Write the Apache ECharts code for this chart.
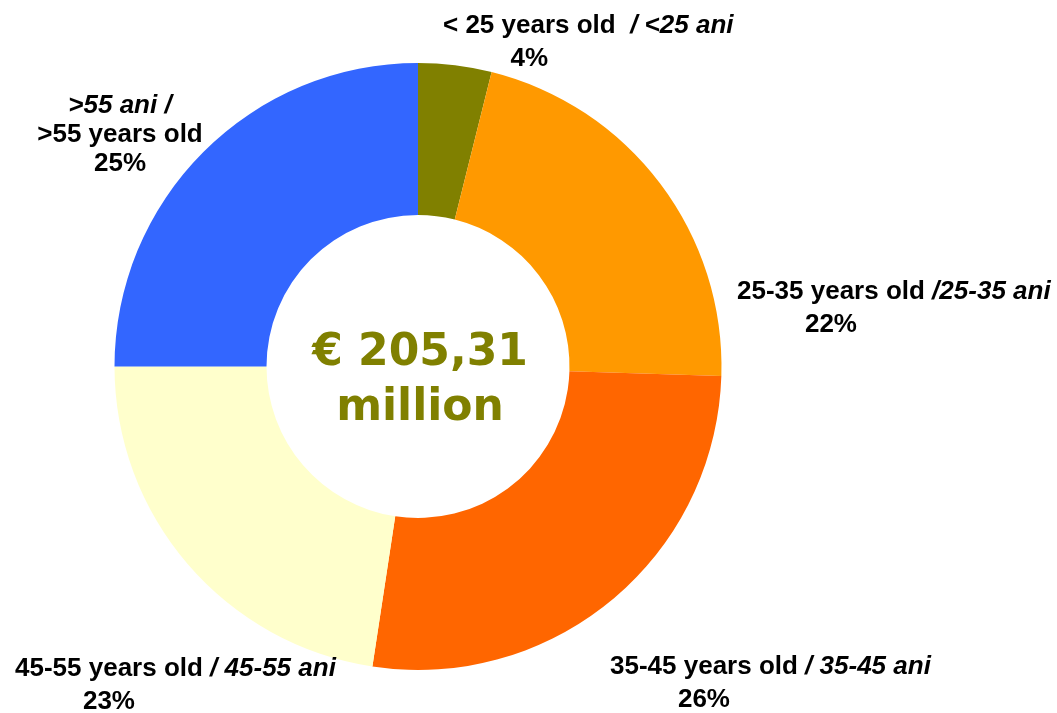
<!DOCTYPE html>
<html>
<head>
<meta charset="utf-8">
<title>Age structure</title>
<script src="https://cdn.jsdelivr.net/npm/echarts@6/dist/echarts.min.js"></script>
<style>
  html, body { margin: 0; padding: 0; background: #fff; }
  #chart { width: 1057px; height: 713px; }
</style>
</head>
<body>
<div id="chart"></div>
<script>
// data
var categories = ['< 25 years old', '25-35 years old', '35-45 years old', '45-55 years old', '>55 years old'];
var categoriesRo = ['<25 ani', '25-35 ani', '35-45 ani', '45-55 ani', '>55 ani'];
var separators = ['  / ', ' /', ' / ', ' / ', ' /'];
var shares = [3.9, 21.6, 26.9, 22.6, 25.0];
// percentages as printed on the labels
var shareLabels = ['4%', '22%', '26%', '23%', '25%'];
var colors = ['#808000', '#FF9900', '#FF6600', '#FFFFCC', '#3366FF'];
var totalLabel = ['€ 205,31', 'million'];

// label placement (left/top of each label block)
var labelPos = [[443, 9], [737, 275], [610, 650], [15, 652], [120, 91]];

var labelFont = '"Liberation Sans", Arial, sans-serif';
var labelSize = 26;

var measureCtx = document.createElement('canvas').getContext('2d');
function textWidth(txt) {
	measureCtx.font = 'bold ' + labelSize + 'px ' + labelFont;
	return measureCtx.measureText(txt).width;
}

var baseRich = {
	b: { fontFamily: labelFont, fontSize: labelSize, fontWeight: 'bold', color: '#000', lineHeight: 33 },
	i: { fontFamily: labelFont, fontSize: labelSize, fontWeight: 'bold', fontStyle: 'italic', color: '#000', lineHeight: 33 },
	bs: { fontFamily: labelFont, fontSize: labelSize, fontWeight: 'bold', color: '#000', lineHeight: 29 },
	is: { fontFamily: labelFont, fontSize: labelSize, fontWeight: 'bold', fontStyle: 'italic', color: '#000', lineHeight: 29 }
};

var data = categories.map(function (cat, idx) {
	var pct = shareLabels[idx];
	var rich = Object.assign({}, baseRich);
	var text;
	if (idx === 4) {
		text = '{is|' + categoriesRo[idx] + separators[idx] + '}\n{bs|' + cat + '}\n{bs|' + pct + '}';
	} else {
		// centre the percentage under the english part of the first line
		var pad = Math.max(0, (textWidth(cat) - textWidth(pct)) / 2);
		rich.p = Object.assign({}, baseRich.b, { padding: [0, 0, 0, pad] });
		text = '{b|' + cat + '}{i|' + separators[idx] + categoriesRo[idx] + '}\n{p|' + pct + '}';
	}
	return {
		name: cat,
		value: shares[idx],
		itemStyle: { color: colors[idx] },
		label: { formatter: text, rich: rich }
	};
});

var myChart = echarts.init(document.getElementById('chart'), null, { renderer: 'canvas' });

var option = {
	animation: false,
	backgroundColor: '#ffffff',
	series: [{
		type: 'pie',
		center: [418, 366.5],
		radius: [151.5, 303.5],
		startAngle: 90,
		clockwise: true,
		avoidLabelOverlap: false,
		itemStyle: { borderWidth: 0 },
		label: { show: true, position: 'outside' },
		labelLine: { show: false },
		emphasis: { disabled: true },
		labelLayout: function (params) {
			var p = labelPos[params.dataIndex];
			return {
				x: p[0],
				y: p[1],
				align: params.dataIndex === 4 ? 'center' : 'left',
				verticalAlign: 'top'
			};
		},
		data: data
	}],
	graphic: [{
		type: 'text',
		x: 420,
		y: 381,
		style: {
			text: totalLabel.join('\n'),
			fontFamily: '"DejaVu Sans", Verdana, sans-serif',
			fontSize: 44,
			fontWeight: 'bold',
			fill: '#808000',
			lineHeight: 55,
			align: 'center',
			verticalAlign: 'middle'
		}
	}]
};

myChart.setOption(option);
</script>
</body>
</html>
